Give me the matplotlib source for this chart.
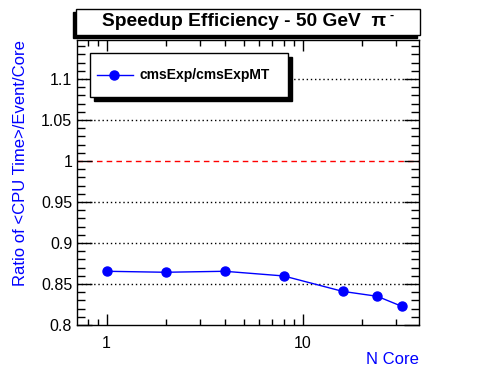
import numpy as np
import matplotlib.pyplot as plt
from matplotlib.patches import Rectangle
from matplotlib.ticker import FixedLocator, NullFormatter, MultipleLocator

plt.rcParams['font.family'] = ['Liberation Sans', 'DejaVu Sans']

# -----------------------------
# data
# -----------------------------
n_core = [1, 2, 4, 8, 16, 24, 32]
ratio = [0.8655, 0.8643, 0.8655, 0.8598, 0.8410, 0.8350, 0.8228]
series_label = "cmsExp/cmsExpMT"

fig = plt.figure(figsize=(4.96, 3.72), dpi=100)
ax = fig.add_axes([77 / 496, 47 / 372, 342 / 496, 285 / 372])

ax.plot(n_core, ratio, color="blue", lw=1, marker="o", ms=6.5,
        mec="blue", mfc="blue", zorder=5)

ax.set_xscale("log")
ax.set_xlim(0.706, 39.2)
ax.set_ylim(0.8, 1.1475)

# grid lines
for yv in [0.85, 0.9, 0.95, 1.05, 1.1]:
    ax.axhline(yv, color="black", ls=(0, (1, 2)), lw=1, zorder=1)
ax.axhline(1.0, color="red", ls=(0, (4, 3)), lw=1, zorder=1)

# ticks
ax.xaxis.set_major_locator(FixedLocator([1, 10]))
ax.xaxis.set_minor_locator(FixedLocator([0.8, 0.9, 2, 3, 4, 5, 6, 7, 8, 9, 20, 30]))
ax.xaxis.set_minor_formatter(NullFormatter())
ax.set_xticklabels(["1", "10"])
ax.yaxis.set_minor_locator(MultipleLocator(0.01))
ax.set_yticks([0.8, 0.85, 0.9, 0.95, 1.0, 1.05, 1.1])
ax.set_yticklabels(["0.8", "0.85", "0.9", "0.95", "1", "1.05", "1.1"])
ax.tick_params(which="both", direction="in", top=True, right=True,
               labelsize=11.5, width=1)
ax.tick_params(axis="y", which="major", length=11)
ax.tick_params(axis="y", which="minor", length=5.5)
ax.tick_params(axis="x", which="major", length=8, pad=8)
ax.tick_params(axis="x", which="minor", length=4)
for sp in ax.spines.values():
    sp.set_linewidth(1)

ax.set_xlabel("N Core", color="blue", fontsize=12, loc="right", labelpad=1)
ax.set_ylabel("Ratio of <CPU Time>/Event/Core", color="blue", fontsize=12,
              loc="top", labelpad=9)

# legend box with shadow (figure pixel coords)
def fig_rect(x0, y0, x1, y1, **kw):
    return Rectangle((x0 / 496, 1 - y1 / 372), (x1 - x0) / 496, (y1 - y0) / 372,
                     transform=fig.transFigure, **kw)

fig.add_artist(fig_rect(94, 57, 292, 101, facecolor="black", edgecolor="black", zorder=8))
fig.add_artist(fig_rect(90, 53, 288, 97, facecolor="white", edgecolor="black", lw=1, zorder=9))
fig.add_artist(plt.Line2D([97 / 496, 133 / 496], [1 - 75 / 372, 1 - 75 / 372],
                          color="blue", lw=1, zorder=10))
fig.add_artist(plt.Line2D([114 / 496], [1 - 75 / 372], color="blue", ls="none",
                          marker="o", ms=6.5, zorder=10))
fig.text(140 / 496, 1 - 75 / 372, series_label, fontsize=10, fontweight="bold",
         va="center", ha="left", zorder=11)

# title box with shadow on left/bottom
fig.add_artist(fig_rect(73, 12, 417, 38, facecolor="black", edgecolor="black", zorder=8))
fig.add_artist(fig_rect(76, 9, 420, 35, facecolor="white", edgecolor="black", lw=1, zorder=9))
fig.text(244 / 496, 1 - 22 / 372, "Speedup Efficiency - 50 GeV  π",
         fontsize=13.8, fontweight="bold", ha="center", va="center", zorder=11)
fig.text(389 / 496, 1 - 16 / 372, "-", fontsize=9, fontweight="bold",
         ha="left", va="center", zorder=11)

fig.savefig("out.png", dpi=100)
